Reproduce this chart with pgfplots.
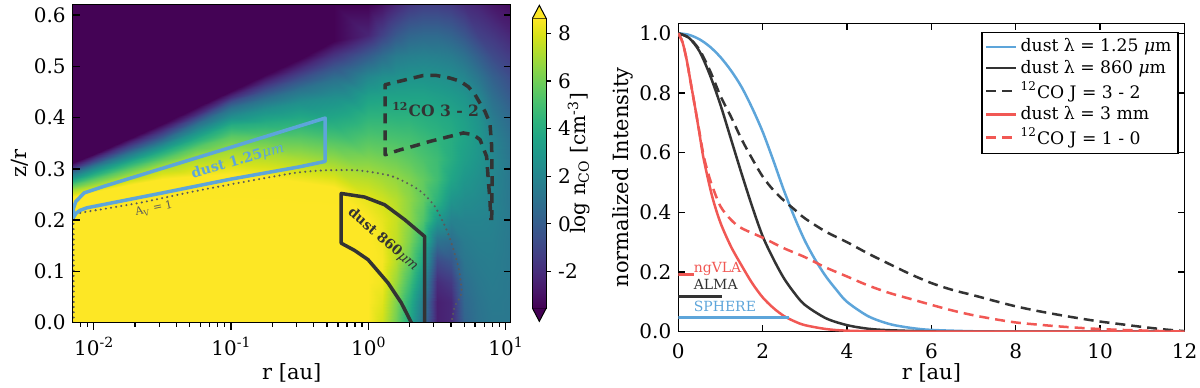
\documentclass[border=0pt]{standalone}
\usepackage{fontspec}
\setmainfont{DejaVu Serif}
\usepackage{pgfplots}
\usepackage{pgfplotstable}
\pgfplotsset{compat=1.18}
\usepgfplotslibrary{colormaps}

\definecolor{cblue}{HTML}{5DA5DA}
\definecolor{cred}{HTML}{F15854}
\definecolor{cdark}{HTML}{333333}
\definecolor{cdot}{HTML}{5A5A5A}
\definecolor{vtop}{HTML}{FDE725}
\definecolor{vbot}{HTML}{440154}

\newcommand\fs{\fontsize{8.6}{10.3}\selectfont}
\newcommand\ft{\fontsize{10}{12}\selectfont}
\newcommand\fl{\fontsize{10.5}{12.5}\selectfont}
\newcommand\supr[1]{\raisebox{4pt}{\fontsize{7}{8}\selectfont #1}}

% structured mesh: log10(r), z/r, log n_CO  (20 points per scanline)
\pgfplotstableread{
lr z v
-2.16 0 9
-2 0 9
-1.75 0 9
-1.5 0 9
-1.25 0 9
-1 0 9
-0.75 0 9
-0.5 0 9
-0.25 0 9
0 0 8.8
0.1 0 7.8
0.2 0 6.0
0.3 0 3.8
0.4 0 1.0
0.5 0 -2.5
0.6 0 -2.2
0.7 0 0.3
0.8 0 1.0
0.9 0 1.3
1.05 0 1.3
-2.16 0.04 9
-2 0.04 9
-1.75 0.04 9
-1.5 0.04 9
-1.25 0.04 9
-1 0.04 9
-0.75 0.04 9
-0.5 0.04 9
-0.25 0.04 9
0 0.04 8.9
0.1 0.04 8.1
0.2 0.04 6.3
0.3 0.04 4.2
0.4 0.04 1.5
0.5 0.04 -2.5
0.6 0.04 -2.2
0.7 0.04 0.5
0.8 0.04 1.1
0.9 0.04 1.4
1.05 0.04 1.3
-2.16 0.08 9
-2 0.08 9
-1.75 0.08 9
-1.5 0.08 9
-1.25 0.08 9
-1 0.08 9
-0.75 0.08 9
-0.5 0.08 9
-0.25 0.08 9
0 0.08 9
0.1 0.08 8.4
0.2 0.08 6.8
0.3 0.08 5.0
0.4 0.08 2.5
0.5 0.08 -2.0
0.6 0.08 -1.5
0.7 0.08 0.8
0.8 0.08 1.3
0.9 0.08 1.5
1.05 0.08 1.3
-2.16 0.12 9
-2 0.12 9
-1.75 0.12 9
-1.5 0.12 9
-1.25 0.12 9
-1 0.12 9
-0.75 0.12 9
-0.5 0.12 9
-0.25 0.12 9
0 0.12 9
0.1 0.12 8.5
0.2 0.12 7.3
0.3 0.12 5.8
0.4 0.12 3.6
0.5 0.12 -0.8
0.6 0.12 -0.3
0.7 0.12 1.2
0.8 0.12 1.5
0.9 0.12 1.6
1.05 0.12 1.3
-2.16 0.16 9
-2 0.16 9
-1.75 0.16 9
-1.5 0.16 9
-1.25 0.16 9
-1 0.16 9
-0.75 0.16 9
-0.5 0.16 9
-0.25 0.16 9
0 0.16 9
0.1 0.16 8.4
0.2 0.16 7.5
0.3 0.16 6.3
0.4 0.16 4.5
0.5 0.16 1.0
0.6 0.16 0.8
0.7 0.16 1.5
0.8 0.16 1.7
0.9 0.16 1.7
1.05 0.16 1.3
-2.16 0.20 9
-2 0.20 9
-1.75 0.20 9
-1.5 0.20 9
-1.25 0.20 9
-1 0.20 9
-0.75 0.20 9
-0.5 0.20 9
-0.25 0.20 9
0 0.20 8.8
0.1 0.20 8.2
0.2 0.20 7.6
0.3 0.20 6.6
0.4 0.20 5.3
0.5 0.20 3.0
0.6 0.20 1.8
0.7 0.20 1.9
0.8 0.20 1.9
0.9 0.20 1.8
1.05 0.20 1.3
-2.16 0.245 8.6
-2 0.255 8.6
-1.75 0.268 8.6
-1.5 0.280 8.6
-1.25 0.287 8.6
-1 0.290 8.6
-0.75 0.285 8.6
-0.5 0.275 8.6
-0.25 0.265 8.6
0 0.24 8.2
0.1 0.24 7.8
0.2 0.24 7.3
0.3 0.24 6.6
0.4 0.24 5.7
0.5 0.24 4.3
0.6 0.24 2.8
0.7 0.24 2.4
0.8 0.24 2.2
0.9 0.24 1.9
1.05 0.24 1.2
-2.16 0.258 7
-2 0.269 7
-1.75 0.287 7
-1.5 0.305 7
-1.25 0.3225 7
-1 0.335 7
-0.75 0.330 7
-0.5 0.322 7
-0.25 0.310 7
0 0.28 7.3
0.1 0.28 7.0
0.2 0.28 6.7
0.3 0.28 6.3
0.4 0.28 5.7
0.5 0.28 4.9
0.6 0.28 3.6
0.7 0.28 2.9
0.8 0.28 2.5
0.9 0.28 2.0
1.05 0.28 1.2
-2.16 0.268 5.5
-2 0.2805 5.5
-1.75 0.300 5.5
-1.5 0.320 5.5
-1.25 0.3425 5.5
-1 0.365 5.5
-0.75 0.3625 5.5
-0.5 0.360 5.5
-0.25 0.350 5.5
0 0.32 6.3
0.1 0.32 6.1
0.2 0.32 5.9
0.3 0.32 5.6
0.4 0.32 5.2
0.5 0.32 4.8
0.6 0.32 4.0
0.7 0.32 3.3
0.8 0.32 2.8
0.9 0.32 2.1
1.05 0.32 1.1
-2.16 0.277 4
-2 0.2905 4
-1.75 0.312 4
-1.5 0.333 4
-1.25 0.359 4
-1 0.385 4
-0.75 0.390 4
-0.5 0.395 4
-0.25 0.390 4
0 0.36 5.3
0.1 0.36 5.2
0.2 0.36 5.1
0.3 0.36 5.0
0.4 0.36 4.7
0.5 0.36 4.4
0.6 0.36 4.0
0.7 0.36 3.5
0.8 0.36 2.9
0.9 0.36 1.9
1.05 0.36 0.9
-2.16 0.285 2.5
-2 0.2995 2.5
-1.75 0.322 2.5
-1.5 0.345 2.5
-1.25 0.3735 2.5
-1 0.402 2.5
-0.75 0.416 2.5
-0.5 0.430 2.5
-0.25 0.440 2.5
0 0.40 4.4
0.1 0.40 4.4
0.2 0.40 4.3
0.3 0.40 4.3
0.4 0.40 4.1
0.5 0.40 3.9
0.6 0.40 3.7
0.7 0.40 3.3
0.8 0.40 2.7
0.9 0.40 1.5
1.05 0.40 0.5
-2.16 0.292 1
-2 0.307 1
-1.75 0.331 1
-1.5 0.355 1
-1.25 0.3865 1
-1 0.418 1
-0.75 0.4365 1
-0.5 0.455 1
-0.25 0.475 1
0 0.44 3.4
0.1 0.44 3.5
0.2 0.44 3.5
0.3 0.44 3.5
0.4 0.44 3.5
0.5 0.44 3.3
0.6 0.44 3.1
0.7 0.44 2.8
0.8 0.44 2.1
0.9 0.44 0.9
1.05 0.44 -0.2
-2.16 0.298 -0.5
-2 0.314 -0.5
-1.75 0.3395 -0.5
-1.5 0.365 -0.5
-1.25 0.3975 -0.5
-1 0.430 -0.5
-0.75 0.4525 -0.5
-0.5 0.475 -0.5
-0.25 0.500 -0.5
0 0.48 2.1
0.1 0.48 2.5
0.2 0.48 2.6
0.3 0.48 2.7
0.4 0.48 2.7
0.5 0.48 2.6
0.6 0.48 2.4
0.7 0.48 2.0
0.8 0.48 1.2
0.9 0.48 0.2
1.05 0.48 -0.8
-2.16 0.304 -2
-2 0.321 -2
-1.75 0.348 -2
-1.5 0.375 -2
-1.25 0.4075 -2
-1 0.440 -2
-0.75 0.4675 -2
-0.5 0.495 -2
-0.25 0.525 -2
0 0.52 0.0
0.1 0.52 0.8
0.2 0.52 1.5
0.3 0.52 1.7
0.4 0.52 1.8
0.5 0.52 1.7
0.6 0.52 1.5
0.7 0.52 1.0
0.8 0.52 0.1
0.9 0.52 -0.8
1.05 0.52 -1.5
-2.16 0.311 -3.5
-2 0.3295 -3.5
-1.75 0.359 -3.5
-1.5 0.388 -3.5
-1.25 0.420 -3.5
-1 0.452 -3.5
-0.75 0.4835 -3.5
-0.5 0.515 -3.5
-0.25 0.550 -3.5
0 0.56 -2.3
0.1 0.56 -1.2
0.2 0.56 -0.2
0.3 0.56 0.4
0.4 0.56 0.6
0.5 0.56 0.6
0.6 0.56 0.3
0.7 0.56 -0.3
0.8 0.56 -1.2
0.9 0.56 -1.6
1.05 0.56 -2.3
-2.16 0.62 -3.5
-2 0.62 -3.5
-1.75 0.62 -3.5
-1.5 0.62 -3.5
-1.25 0.62 -3.5
-1 0.62 -3.5
-0.75 0.62 -3.5
-0.5 0.62 -3.5
-0.25 0.62 -3.5
0 0.62 -3.5
0.1 0.62 -3.0
0.2 0.62 -2.2
0.3 0.62 -1.6
0.4 0.62 -1.3
0.5 0.62 -1.3
0.6 0.62 -1.5
0.7 0.62 -2
0.8 0.62 -2.3
0.9 0.62 -2.8
1.05 0.62 -3.2
}\ncomap

\begin{document}
\begin{tikzpicture}[x=1pt,y=1pt]
\useasboundingbox (0,0) rectangle (600,193.5);
% ================= LEFT PANEL =================
\begin{axis}[
  name=leftax,
  at={(36.35pt,32.15pt)}, anchor=south west,
  scale only axis, width=219pt, height=159pt,
  xmode=log, xmin=0.00703, xmax=10.9, ymin=0, ymax=0.62,
  axis on top,
  axis line style={line width=0.75pt},
  colormap/viridis,
  point meta min=-3.55, point meta max=8.63,
  xtick={0.01,0.1,1,10},
  xticklabels={10\supr{-2},10\supr{-1},10\supr{0},10\supr{1}},
  minor xtick={0.008,0.009,0.02,0.03,0.04,0.05,0.06,0.07,0.08,0.09,0.2,0.3,0.4,0.5,0.6,0.7,0.8,0.9,2,3,4,5,6,7,8,9},
  xtick pos=bottom, xtick align=outside,
  ytick={0,0.1,0.2,0.3,0.4,0.5,0.6},
  yticklabels={0.0,0.1,0.2,0.3,0.4,0.5,0.6},
  ytick pos=both, ytick align=inside, yticklabel pos=left,
  major tick length=3.5pt, minor tick length=2pt,
  tick style={black, line width=0.7pt},
  every tick label/.append style={font=\ft},
  xlabel={r [au]}, ylabel={z/r},
  every axis x label/.style={at={(axis description cs:0.5,0)}, anchor=base, yshift=-28.15pt, font=\fl},
  every axis y label/.style={at={(axis description cs:-0.1203,0.5)}, rotate=90, anchor=center, font=\fl},
  colorbar,
  colorbar style={
    name=cbar,
    at={(parent axis.north east)}, anchor=north west,
    xshift=2.35pt, yshift=-6.8pt,
    scale only axis, width=6.85pt, height=145pt,
    ytick={-2,0,2,4,6,8}, yticklabels={-2,0,2,4,6,8},
    yticklabel pos=right, ytick pos=right, ytick align=outside,
    major tick length=2.5pt,
    tick style={black, line width=0.6pt},
    axis line style={line width=0.5pt},
    every tick label/.append style={font=\ft},
  },
]
\addplot[surf, shader=interp, mesh/cols=20, point meta=\thisrow{v}]
  table[x expr={10^(\thisrow{lr})}, y=z] {\ncomap};

% Av = 1 dotted line
\addplot[cdot, line width=1.15pt, dash pattern=on 0pt off 2.6pt, line cap=round, smooth, tension=0.4]
  coordinates {(0.00716,0) (0.00716,0.205) (0.0076,0.213) (0.02089,0.233) (0.06383,0.26) (0.2742,0.291) (0.4786,0.297) (0.8414,0.297) (1.472,0.286) (2.307,0.26) (3.048,0.227) (3.802,0.175) (4.519,0.11) (4.775,0.058) (4.266,0.032) (4.036,0.0)};

% dust 1.25 micron region
\addplot[cblue, line width=1.75pt, line join=round, line cap=round]
  coordinates {(0.00711,0.205) (0.00741,0.213) (0.00794,0.219) (0.00891,0.224) (0.03162,0.253) (0.1,0.280) (0.3162,0.304) (0.4853,0.3145) (0.4853,0.399) (0.1,0.342) (0.03162,0.301) (0.01189,0.266) (0.00851,0.253) (0.0074,0.236) (0.00711,0.222) (0.00711,0.205)};

% dust 860 micron region
\addplot[cdark, line width=1.75pt, line join=round]
  coordinates {(2.061,0.0) (1.742,0.0385) (1.393,0.0775) (0.9954,0.123) (0.7943,0.141) (0.6353,0.155) (0.6353,0.252) (0.9397,0.245) (1.315,0.23) (1.841,0.201) (2.576,0.168) (2.576,0.0)};

% 12CO 3-2 region
\addplot[cdark, line width=1.75pt, dash pattern=on 5pt off 3.5pt, line join=round]
  coordinates {(7.925,0.200) (7.980,0.279) (7.925,0.344) (7.691,0.389) (7.079,0.412) (6.516,0.428) (5.984,0.445) (5.358,0.460) (4.656,0.471) (3.936,0.477) (3.148,0.482) (2.512,0.482) (1.702,0.471) (1.324,0.464) (1.324,0.3275) (1.702,0.337) (2.128,0.344) (2.812,0.3535) (3.516,0.36) (4.920,0.370) (5.821,0.3665) (6.516,0.357) (7.278,0.324) (7.482,0.279) (7.691,0.240) (7.816,0.200)};

\node[rotate=16, text=cblue, font=\fontsize{7}{8}\selectfont\bfseries] at (axis cs:0.112,0.315) {dust 1.25{\mdseries\itshape μm}};
\node[rotate=-41, text=cdark, font=\fontsize{6.8}{8}\selectfont\bfseries] at (axis cs:1.28,0.162) {dust 860{\mdseries\itshape μm}};
\node[text=cdark, font=\fontsize{7.8}{9}\selectfont\bfseries] at (axis cs:3.1,0.415) {\textsuperscript{12}CO 3 - 2};
\node[rotate=12, text=cdot, font=\fontsize{5.5}{6}\selectfont] at (axis cs:0.0275,0.222) {A\textsubscript{V} = 1};
\end{axis}

% colorbar extension triangles and label
\fill[vtop] (cbar.north west) -- ([yshift=6.5pt]cbar.north) -- (cbar.north east) -- cycle;
\draw[line width=0.5pt] (cbar.north west) -- ([yshift=6.5pt]cbar.north) -- (cbar.north east);
\fill[vbot] (cbar.south west) -- ([yshift=-6.5pt]cbar.south) -- (cbar.south east) -- cycle;
\draw[line width=0.5pt] (cbar.south west) -- ([yshift=-6.5pt]cbar.south) -- (cbar.south east);
\node[rotate=90, font=\ft, anchor=center] at (289.35,111.85) {log n\textsubscript{CO} [cm\textsuperscript{-3}]};

% ================= RIGHT PANEL =================
\begin{axis}[
  name=rightax,
  at={(339.15pt,27.65pt)}, anchor=south west,
  scale only axis, width=253.1pt, height=154.2pt,
  xmin=0, xmax=12, ymin=0, ymax=1.0335,
  axis line style={line width=0.75pt},
  xtick={0,2,4,6,8,10,12}, xticklabels={0,2,4,6,8,10,12},
  ytick={0,0.2,0.4,0.6,0.8,1.0}, yticklabels={0.0,0.2,0.4,0.6,0.8,1.0},
  tick pos=both, tick align=inside, major tick length=3.5pt,
  tick style={black, line width=0.7pt},
  every tick label/.append style={font=\ft},
  xticklabel style={yshift=-2.5pt},
  xlabel={r [au]}, ylabel={normalized Intensity},
  every axis x label/.style={at={(axis description cs:0.5,0)}, anchor=base, yshift=-23.65pt, font=\fl},
  every axis y label/.style={at={(axis description cs:-0.1092,0.5)}, rotate=90, anchor=center, font=\fl},
  legend style={at={(1,1)}, anchor=north east, xshift=-3pt, yshift=-4.2pt,
    draw=black, line width=0.8pt, fill=white, font=\fs, inner sep=1.5pt,
    row sep=-0.6pt, nodes={inner sep=1.6pt}},
  legend cell align=left,
  legend image code/.code={\draw[#1] (0pt,0pt) -- (15pt,0pt);},
]
\addplot[cblue, line width=1.25pt, smooth, tension=0.5] coordinates {
(0,1.0) (0.25,0.995) (0.5,0.98) (0.75,0.955) (1.0,0.92) (1.25,0.875) (1.5,0.82) (1.75,0.75) (2.0,0.67) (2.25,0.575) (2.5,0.475) (2.75,0.385) (3.0,0.305) (3.25,0.24) (3.5,0.185) (3.75,0.14) (4.0,0.10) (4.5,0.052) (5.0,0.026) (5.5,0.013) (6.0,0.006) (7.0,0.0015) (8.0,0.0003) (9,0) (12,0)};
\addlegendentry{dust λ = 1.25 \textit{μ}m}
\addplot[cdark, line width=1.25pt, smooth, tension=0.5] coordinates {
(0,1.0) (0.25,0.985) (0.5,0.94) (0.75,0.86) (1.0,0.76) (1.25,0.645) (1.5,0.53) (1.75,0.42) (2.0,0.32) (2.25,0.245) (2.5,0.18) (2.75,0.13) (3.0,0.09) (3.5,0.045) (4.0,0.022) (4.5,0.01) (5.0,0.005) (6.0,0.001) (7,0) (12,0)};
\addlegendentry{dust λ = 860 \textit{μ}m}
\addplot[cdark, line width=1.25pt, dash pattern=on 5pt off 3pt, smooth, tension=0.5] coordinates {
(0,1.0) (0.25,0.985) (0.5,0.945) (0.75,0.875) (1.0,0.79) (1.25,0.72) (1.5,0.645) (1.75,0.58) (2.0,0.52) (2.25,0.475) (2.5,0.44) (2.75,0.41) (3.0,0.38) (3.5,0.335) (4.0,0.30) (4.5,0.262) (5.0,0.227) (5.5,0.193) (6.0,0.163) (6.5,0.14) (7.0,0.122) (7.5,0.103) (8.0,0.085) (8.5,0.07) (9.0,0.057) (9.5,0.045) (10.0,0.034) (10.5,0.025) (11.0,0.016) (11.5,0.008) (12.0,0.002)};
\addlegendentry{\textsuperscript{12}CO J = 3 - 2}
\addplot[cred, line width=1.25pt, smooth, tension=0.5] coordinates {
(0,1.0) (0.1,0.97) (0.2,0.91) (0.3,0.83) (0.4,0.75) (0.5,0.665) (0.6,0.58) (0.8,0.455) (1.0,0.365) (1.25,0.285) (1.5,0.222) (1.75,0.163) (2.0,0.115) (2.25,0.08) (2.5,0.053) (2.75,0.035) (3.0,0.022) (3.5,0.009) (4.0,0.0035) (5.0,0.0005) (6,0) (12,0)};
\addlegendentry{dust λ = 3 mm}
\addplot[cred, line width=1.25pt, dash pattern=on 5pt off 3pt, smooth, tension=0.5] coordinates {
(0,1.0) (0.1,0.97) (0.2,0.91) (0.3,0.83) (0.4,0.75) (0.5,0.67) (0.6,0.59) (0.7,0.535) (0.8,0.49) (1.0,0.42) (1.25,0.375) (1.5,0.347) (2.0,0.315) (2.5,0.28) (3.0,0.25) (3.5,0.215) (4.0,0.185) (4.5,0.155) (5.0,0.13) (5.5,0.11) (6.0,0.09) (6.5,0.071) (7.0,0.055) (7.5,0.042) (8.0,0.031) (8.5,0.024) (9.0,0.018) (9.5,0.013) (10.0,0.009) (10.5,0.006) (11,0.004) (11.5,0.002) (12,0.001)};
\addlegendentry{\textsuperscript{12}CO J = 1 - 0}

% resolution bars
\addplot[cred, line width=1.5pt, forget plot] coordinates {(0,0.193) (0.38,0.193)};
\addplot[cdark, line width=1.5pt, forget plot] coordinates {(0,0.118) (1.04,0.118)};
\addplot[cblue, line width=1.5pt, forget plot] coordinates {(0,0.048) (2.62,0.048)};
\node[text=cred, anchor=base west, font=\fontsize{7}{8}\selectfont] at (axis cs:0.2,0.2) {ngVLA};
\node[text=cdark, anchor=base west, font=\fontsize{7}{8}\selectfont] at (axis cs:0.2,0.14) {ALMA};
\node[text=cblue, anchor=base west, font=\fontsize{7}{8}\selectfont] at (axis cs:0.2,0.068) {SPHERE};
\end{axis}
\end{tikzpicture}
\end{document}
